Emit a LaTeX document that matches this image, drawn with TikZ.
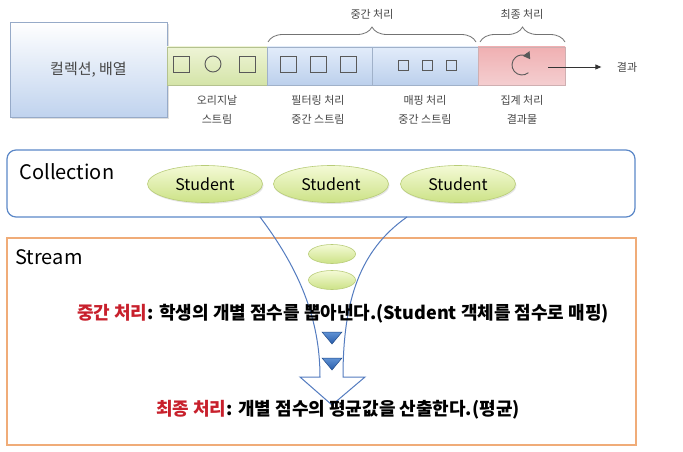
\documentclass[tikz,border=0pt]{standalone}
\usepackage{fontspec}
\setmainfont{Noto Sans CJK KR}
\usetikzlibrary{arrows.meta,shapes.geometric,decorations.pathreplacing,shadows}
\definecolor{boxblue}{RGB}{192,211,238}
\definecolor{boxline}{RGB}{150,170,200}
\definecolor{greentop}{RGB}{238,244,214}
\definecolor{greenbot}{RGB}{212,228,168}
\definecolor{bluetop}{RGB}{226,236,250}
\definecolor{bluebot}{RGB}{188,208,236}
\definecolor{redtop}{RGB}{240,176,178}
\definecolor{redbot}{RGB}{244,206,208}
\definecolor{collline}{RGB}{92,136,200}
\definecolor{streamline}{RGB}{240,172,120}
\definecolor{eltop}{RGB}{244,250,214}
\definecolor{elbot}{RGB}{204,226,134}
\definecolor{elline}{RGB}{184,204,120}
\definecolor{flowline}{RGB}{84,124,192}
\definecolor{tritop}{RGB}{96,146,212}
\definecolor{tribot}{RGB}{40,92,170}
\definecolor{hot}{RGB}{200,32,44}
\definecolor{graytxt}{RGB}{70,70,70}
\tikzset{
    bar/.style 2 args={top color=#1, bottom color=#2, draw=#2!85!black, line width=0.6pt},
    shp/.style={draw=black!65, line width=0.9pt},
    lbl/.style={font=\fontsize{11}{19}\selectfont, text=graytxt, align=center},
    brc/.style={decorate, decoration={brace, amplitude=15pt}, draw=black!55, line width=0.8pt},
    pill/.style={ellipse, top color=eltop, bottom color=elbot, draw=elline, line width=0.6pt, inner sep=0pt},
    flow/.style={draw=flowline, line width=1pt},
    tri/.style={top color=tritop, bottom color=tribot, draw=tribot!80!black, line width=0.5pt},
    say/.style={font=\fontsize{18}{20}\selectfont\bfseries},
    head/.style={font=\fontsize{20}{22}\selectfont, anchor=west}
}

\begin{document}
\begin{tikzpicture}[x=1pt,y=-1pt]
\useasboundingbox (0,0) rectangle (683,452);
\fill[white] (0,0) rectangle (683,452);
\node[top color=white, bottom color=boxblue, draw=boxline, line width=0.8pt,
    minimum width=157pt, minimum height=95pt, font=\fontsize{15}{17}\selectfont, text=graytxt,
    drop shadow={opacity=0.25, shadow xshift=2pt, shadow yshift=-2pt}] (src) at (88.5,69.5) {컬렉션, 배열};
\draw[bar={greentop}{greenbot}] (167,47) rectangle (267,85);
\draw[bar={bluetop}{bluebot}] (267,47) rectangle (372,85);
\draw[bar={bluetop}{bluebot}] (372,47) rectangle (478,85);
\draw[bar={redtop}{redbot}] (478,47) rectangle (565,85);
\draw[shp] (173,56) rectangle (189,72);
\draw[shp] (213,64) circle (8);
\draw[shp] (239,56) rectangle (255,72);
\draw[shp] (280,56) rectangle (296,72);
\draw[shp] (310,56) rectangle (326,72);
\draw[shp] (340,56) rectangle (356,72);
\draw[shp] (398,60) rectangle (408,70);
\draw[shp] (422,60) rectangle (432,70);
\draw[shp] (446,60) rectangle (456,70);
\coordinate (cyc) at (522,65);
\draw[shp, -{Triangle[length=7pt,width=8pt]}] (cyc) ++(50:10) arc[start angle=50, end angle=325, radius=10];
\coordinate (out) at (548,67);
\node[lbl] (res) at (627,67) {결과};
\draw[black!80, line width=0.8pt, -{Triangle[length=6pt,width=5pt]}, shorten >=12pt] (out) -- (res.west);
\node[lbl] (orig) at (217,110) {오리지날\\스트림};
\node[lbl] (filt) at (318,110) {필터링 처리\\중간 스트림};
\node[lbl] (mapp) at (425,110) {매핑 처리\\중간 스트림};
\node[lbl] (aggr) at (522,110) {집계 처리\\결과물};
\draw[brc] (268,42) -- (476,42);
\draw[brc] (480,42) -- (565,42);
\node[lbl] (midhd) at (372,14) {중간 처리};
\node[lbl] (endhd) at (522,14) {최종 처리};
\node[draw=collline, rounded corners=9pt, line width=1.2pt, minimum width=628pt, minimum height=67pt] (coll) at (321,183.5) {};
\node[head] (colllbl) at (16,172) {Collection};
\node[pill, minimum width=115pt, minimum height=37pt, font=\fontsize{16}{18}\selectfont,
    drop shadow={opacity=0.2, shadow xshift=1pt, shadow yshift=-1.5pt}] (st1) at (205,184) {Student};
\node[pill, minimum width=115pt, minimum height=37pt, font=\fontsize{16}{18}\selectfont,
    drop shadow={opacity=0.2, shadow xshift=1pt, shadow yshift=-1.5pt}] (st2) at (331,184) {Student};
\node[pill, minimum width=115pt, minimum height=37pt, font=\fontsize{16}{18}\selectfont,
    drop shadow={opacity=0.2, shadow xshift=1pt, shadow yshift=-1.5pt}] (st3) at (458,184) {Student};
\node[draw=streamline, line width=1.2pt, minimum width=629pt, minimum height=207pt] (strm) at (321.5,341.5) {};
\node[head] (strmlbl) at (12,257) {Stream};
\node[pill, minimum width=47pt, minimum height=19pt] (pc1) at (332,254) {};
\node[pill, minimum width=47pt, minimum height=19pt] (pc2) at (332,280) {};
\coordinate (fl) at (260,217);
\coordinate (fr) at (407,217);
\draw[flow] (fl) .. controls (300,270) and (320,320) .. (320,377) -- (300,377) -- (332,405)
    -- (365,377) -- (343,377) .. controls (343,300) and (360,250) .. (fr);
\draw[tri] (322,332) -- (342,332) -- (332,344) -- cycle;
\draw[tri] (322,358) -- (342,358) -- (332,370) -- cycle;
\node[say] (midtx) at (343,314) {\textcolor{hot}{중간 처리}: 학생의 개별 점수를 뽑아낸다.(Student 객체를 점수로 매핑)};
\node[say] (fintx) at (338,410) {\textcolor{hot}{최종 처리}: 개별 점수의 평균값을 산출한다.(평균)};
\end{tikzpicture}
\end{document}
